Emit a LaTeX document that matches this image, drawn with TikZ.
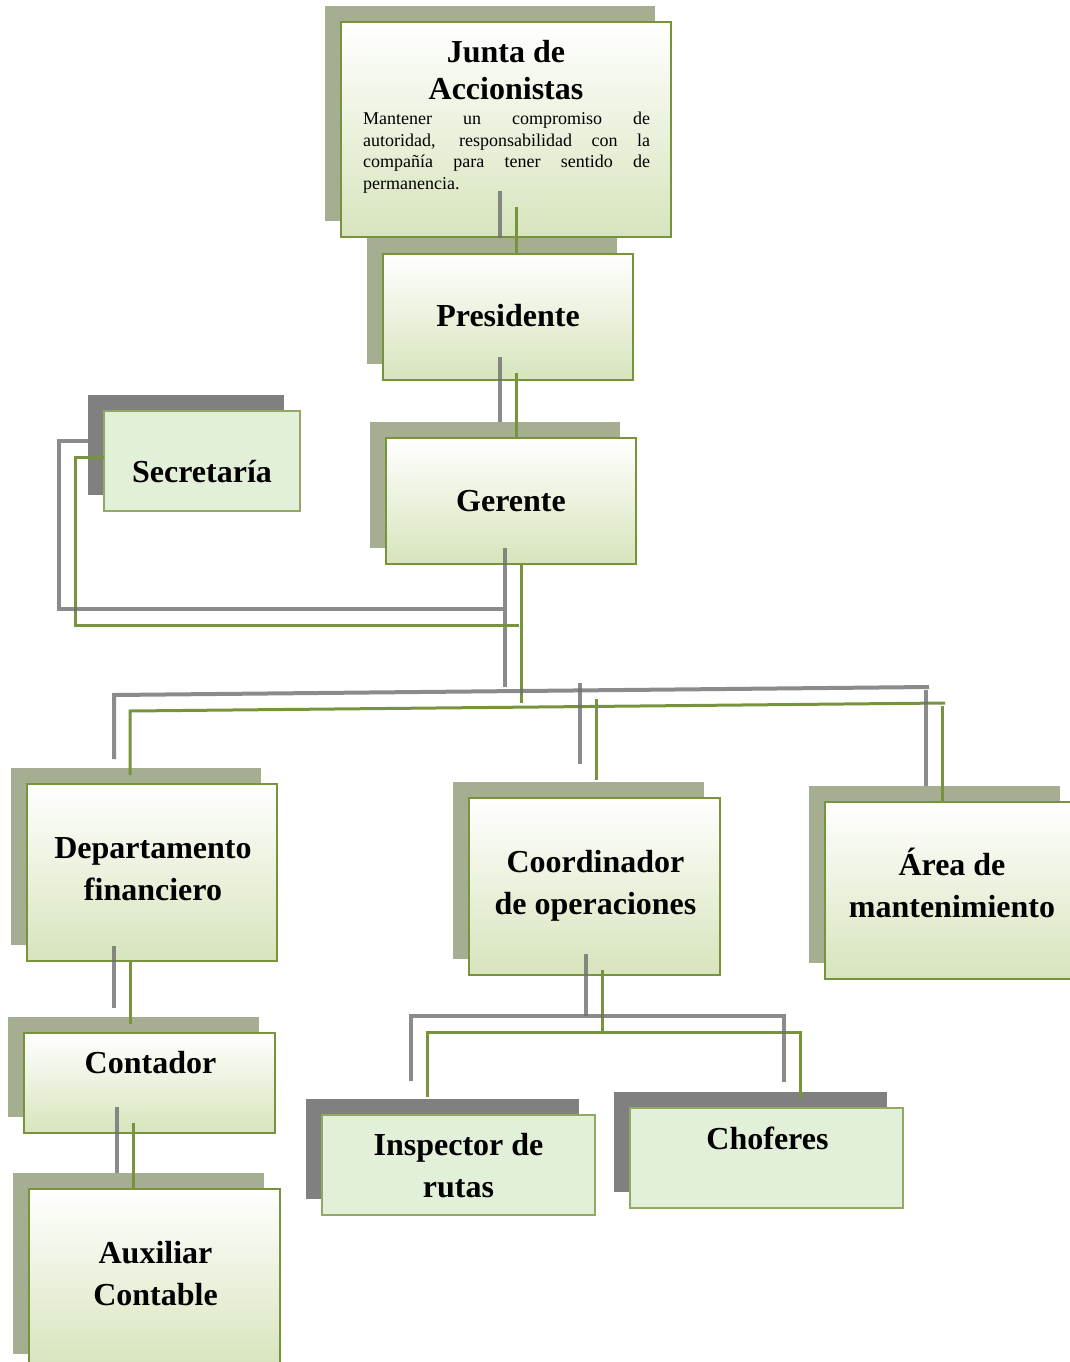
\documentclass[tikz,border=0pt]{standalone}
\usepackage{fontspec}
\setmainfont{Liberation Serif}
\usetikzlibrary{calc,shadows}

\definecolor{olv}{HTML}{77933C}
\definecolor{gbot}{HTML}{D7E4BC}
\definecolor{shadowOl}{HTML}{A6AE92}
\definecolor{shadowDk}{HTML}{808080}
\definecolor{flatfill}{HTML}{E2EFD9}
\definecolor{linkgray}{HTML}{6E6E6E}

\tikzset{
  boxbase/.style={anchor=north west, inner sep=0pt, outer sep=0pt},
  gbox/.style={boxbase, draw=olv, line width=2.5pt, top color=white, bottom color=gbot,
    general shadow={fill=shadowOl, shadow xshift=-16pt, shadow yshift=16pt}},
  fbox/.style={boxbase, draw=olv!80!white, line width=1.5pt, fill=flatfill,
    general shadow={fill=shadowDk, shadow xshift=-16pt, shadow yshift=16pt}},
  ttl/.style={font=\bfseries\fontsize{32}{42}\selectfont, align=center, inner sep=0pt},
  bodytxt/.style={anchor=north west, inner sep=0pt, text width=287pt, align=justify,
    font=\fontsize{18}{21.5}\selectfont},
  flink/.style={draw=olv, line width=3pt},
  slink/.style={draw=linkgray, line width=4pt, opacity=0.8,
    transform canvas={xshift=-16pt, yshift=16pt}},
}

% each link: green line plus its grey offset twin
\newcommand\orglink[1]{\path[flink] #1; \path[slink] #1;}

\begin{document}
\begin{tikzpicture}[x=1pt, y=-1pt]
\useasboundingbox (0,0) rectangle (1070,1362);
\clip (0,0) rectangle (1070,1362);

% boxes
\node[gbox, minimum width=330pt, minimum height=215pt] (junta) at (341,22) {};
\node[gbox, minimum width=250pt, minimum height=126pt] (pres)  at (383,254) {};
\node[fbox, minimum width=196pt, minimum height=100pt] (sec)   at (104,411) {};
\node[gbox, minimum width=250pt, minimum height=126pt] (ger)   at (386,438) {};
\node[gbox, minimum width=250pt, minimum height=177pt] (dept)  at (27,784) {};
\node[gbox, minimum width=251pt, minimum height=177pt] (coord) at (469,798) {};
\node[gbox, minimum width=251pt, minimum height=177pt] (area)  at (825,802) {};
\node[gbox, minimum width=251pt, minimum height=100pt] (cont)  at (24,1033) {};
\node[gbox, minimum width=251pt, minimum height=181pt] (aux)   at (29,1189) {};
\node[fbox, minimum width=273pt, minimum height=100pt] (insp)  at (322,1115) {};
\node[fbox, minimum width=273pt, minimum height=100pt] (chof)  at (630,1108) {};

% texts
\node[ttl, font=\bfseries\fontsize{32}{37}\selectfont] (juntaT) at ($(junta.north)+(0,48)$) {Junta de\\Accionistas};
\node[bodytxt] (juntaB) at ($(junta.north west)+(22,90)$)
  {Mantener un compromiso de\linebreak autoridad, responsabilidad con la\linebreak compañía para tener sentido de\linebreak permanencia.};
\node[ttl] (presT)  at ($(pres.center)+(0,-1)$) {Presidente};
\node[ttl] (secT)   at ($(sec.center)+(0,11)$) {Secretaría};
\node[ttl] (gerT)   at (ger.center) {Gerente};
\node[ttl] (deptT)  at ($(dept.center)+(1,-3)$) {Departamento\\financiero};
\node[ttl] (coordT) at ($(coord.center)+(1,-1)$) {Coordinador\\de operaciones};
\node[ttl] (areaT)  at ($(area.center)+(1.5,-8)$) {Área de\\mantenimiento};
\node[ttl] (contT)  at ($(cont.center)+(1,-20)$) {Contador};
\node[ttl] (auxT)   at ($(aux.center)+(1,-6)$) {Auxiliar\\Contable};
\node[ttl] (inspT)  at ($(insp.center)+(0,1)$) {Inspector de\\rutas};
\node[ttl] (chofT)  at ($(chof.center)+(1,-20)$) {Choferes};

% connectors
\orglink{($(junta.south)+(10,-30)$) -- ($(pres.north)+(8,0)$)}
\orglink{($(pres.south)+(8,-7)$) -- ($(ger.north)+(5,0)$)}
\orglink{($(ger.south)+(10,0)$) -- ($(ger.south)+(10,139)$)}
\orglink{($(ger.south)+(8,61)$) -| ($(sec.west)+(-29,-4)$) -- ($(sec.west)+(0,-4)$)}
\orglink{($(dept.north)+(-22,-9)$) -- ($(dept.north)+(-22,-73)$) -- ($(area.north)+(-5.5,-99)$)}
\orglink{($(coord.north)+(1.5,-99)$) -- ($(coord.north)+(1.5,-18)$)}
\orglink{($(area.north)+(-8.5,-96)$) -- ($(area.north)+(-8.5,0)$)}
\orglink{($(dept.south)+(-22,1)$) -- ($(cont.north)+(-19.5,-9)$)}
\orglink{($(cont.south)+(-16.5,-10)$) -- ($(aux.north)+(-21.5,0)$)}
\orglink{($(coord.south)+(7.5,-5)$) -- ($(coord.south)+(7.5,57)$)}
\orglink{($(insp.north)+(-31.5,-18)$) |- ($(chof.north)+(33.5,-76)$) -- ($(chof.north)+(33.5,-10)$)}
\end{tikzpicture}
\end{document}
